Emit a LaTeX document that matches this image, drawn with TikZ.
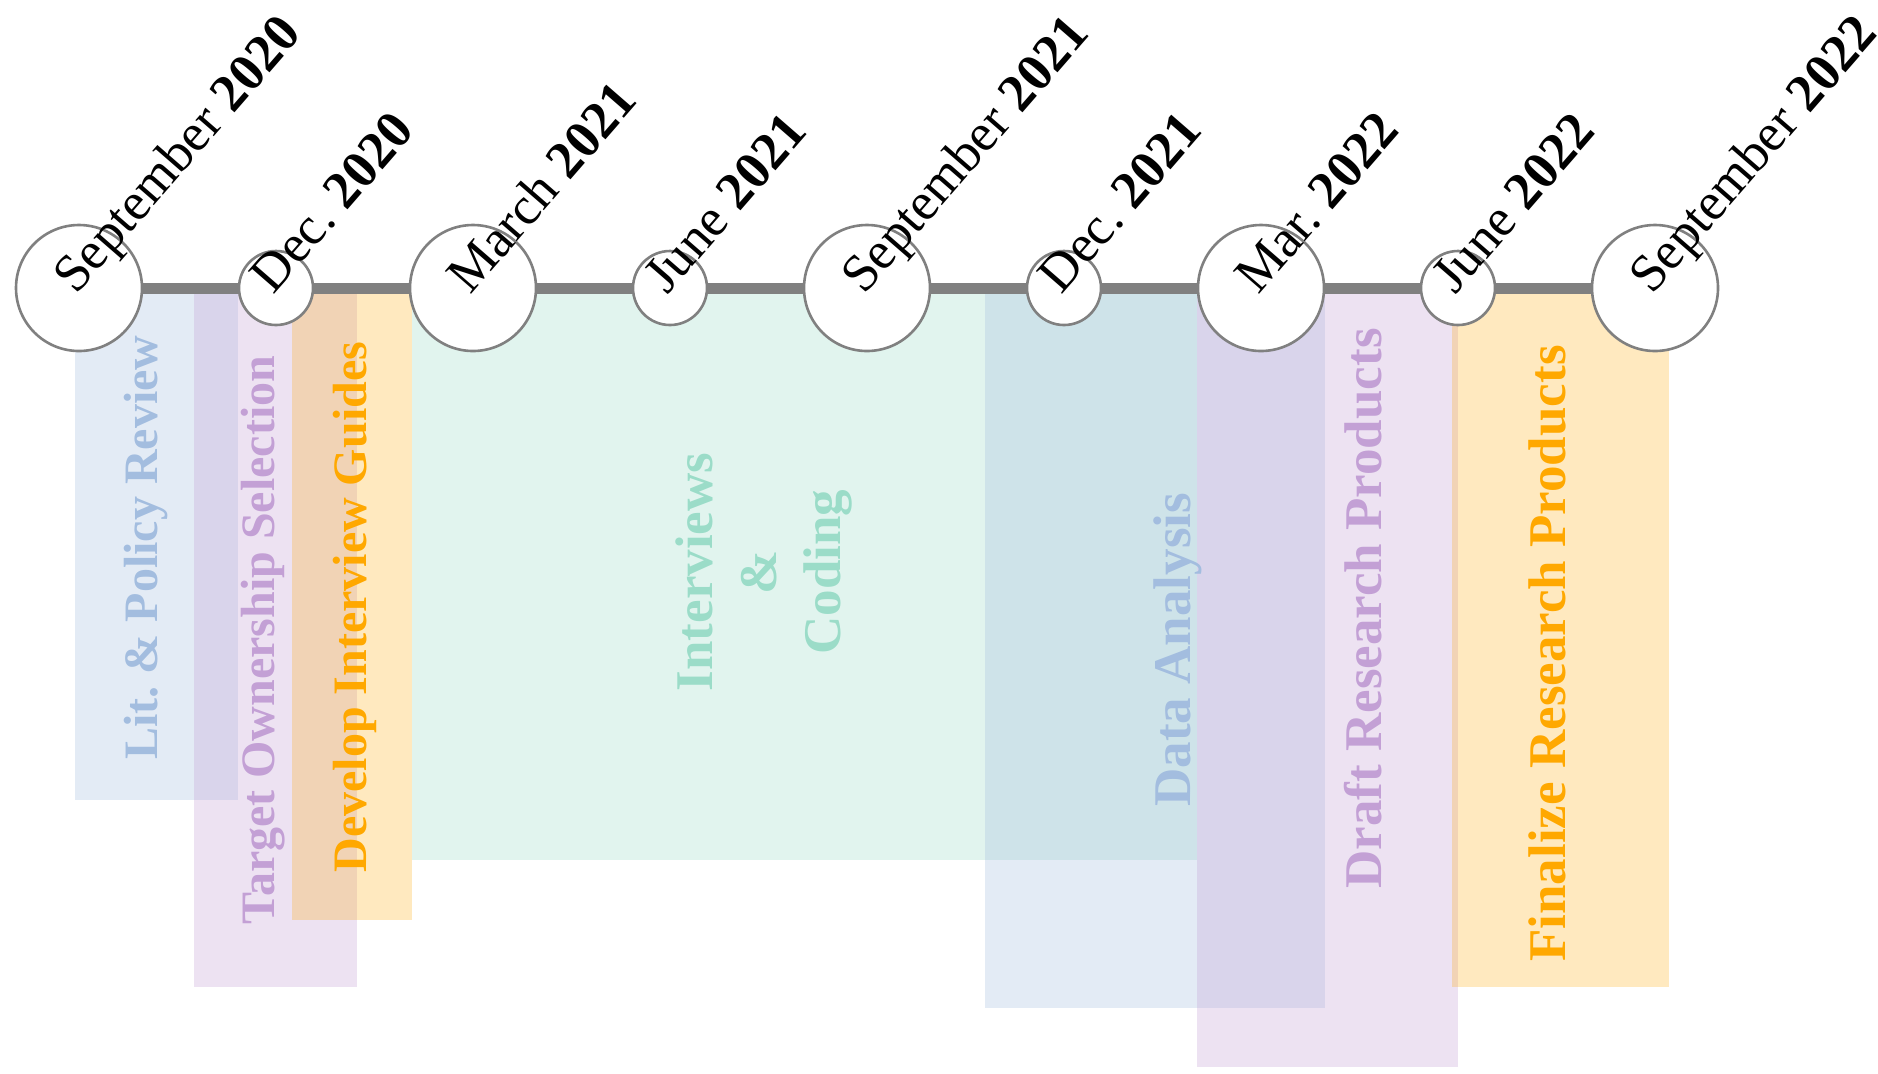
\documentclass[tikz,border=0pt]{standalone}
\usepackage{fontspec}
\setmainfont{Liberation Serif}
\frenchspacing
\definecolor{cblue}{RGB}{163,189,223}
\definecolor{cpurple}{RGB}{195,160,213}
\definecolor{corange}{RGB}{255,168,0}
\definecolor{cgreen}{RGB}{155,220,200}
\definecolor{cline}{RGB}{128,128,128}
\begin{document}
\begin{tikzpicture}[x=0.5pt,y=-0.5pt,
  bigdot/.style={circle, draw=cline, line width=1.3pt, fill=white, minimum size=63pt, inner sep=0pt},
  smalldot/.style={circle, draw=cline, line width=1.3pt, fill=white, minimum size=37pt, inner sep=0pt},
  tline/.style={draw=cline, line width=5.5pt},
  datelbl/.style={anchor=base west, rotate=49, inner sep=0pt, font=\fontsize{26.5pt}{32pt}\selectfont},
  barS/.style={anchor=base west, rotate=90, inner sep=0pt, font=\bfseries\fontsize{24pt}{29pt}\selectfont},
  barL/.style={anchor=base west, rotate=90, inner sep=0pt, font=\bfseries\fontsize{26.5pt}{31.8pt}\selectfont},
  barfill/.style={fill=#1, fill opacity=0.3}
]
\useasboundingbox (0,0) rectangle (1878,1073);
% bars
\fill[barfill=cblue]   (75,288) rectangle (238,800);
\fill[barfill=cpurple] (194,288) rectangle (357,987);
\fill[corange, fill opacity=0.25] (292,288) rectangle (412,920);
\fill[barfill=cgreen]  (412,288) rectangle (1197,860);
\fill[barfill=cblue]   (985,288) rectangle (1325,1008);
\fill[barfill=cpurple] (1197,288) rectangle (1458,1067);
\fill[corange, fill opacity=0.25] (1452,288) rectangle (1669,987);
% bar labels
\node[barS, text=cblue]   (t1) at (157,760) {Lit.\ \& Policy Review};
\node[barS, text=cpurple] (t2) at (274,925) {Target Ownership Selection};
\node[barS, text=corange] (t3) at (366,873) {Develop Interview Guides};
\node[rotate=90, inner sep=0pt, align=center, text=cgreen, font=\bfseries\fontsize{26.5pt}{31.8pt}\selectfont] (t4) at (764,572) {Interviews\\\&\\Coding};
\node[barL, text=cblue]   (t5) at (1190,807) {Data Analysis};
\node[barL, text=cpurple] (t6) at (1381,889) {Draft Research Products};
\node[barL, text=corange] (t7) at (1565,962) {Finalize Research Products};
% timeline circles
\node[bigdot]   (c1) at (79,288) {};
\node[smalldot] (c2) at (276,288) {};
\node[bigdot]   (c3) at (473,288) {};
\node[smalldot] (c4) at (670,288) {};
\node[bigdot]   (c5) at (867,288) {};
\node[smalldot] (c6) at (1064,288) {};
\node[bigdot]   (c7) at (1261,288) {};
\node[smalldot] (c8) at (1458,288) {};
\node[bigdot]   (c9) at (1655,288) {};
\draw[tline] (c1) -- (c2);
\draw[tline] (c2) -- (c3);
\draw[tline] (c3) -- (c4);
\draw[tline] (c4) -- (c5);
\draw[tline] (c5) -- (c6);
\draw[tline] (c6) -- (c7);
\draw[tline] (c7) -- (c8);
\draw[tline] (c8) -- (c9);
% date labels
\node[datelbl] (d1) at (76,296)   {September \textbf{2020}};
\node[datelbl] (d2) at (273,296)  {Dec. \textbf{2020}};
\node[datelbl] (d3) at (470,296)  {March \textbf{2021}};
\node[datelbl] (d4) at (667,296)  {June \textbf{2021}};
\node[datelbl] (d5) at (864,296)  {September \textbf{2021}};
\node[datelbl] (d6) at (1061,296) {Dec. \textbf{2021}};
\node[datelbl] (d7) at (1258,296) {Mar. \textbf{2022}};
\node[datelbl] (d8) at (1455,296) {June \textbf{2022}};
\node[datelbl] (d9) at (1652,296) {September \textbf{2022}};
\end{tikzpicture}
\end{document}
